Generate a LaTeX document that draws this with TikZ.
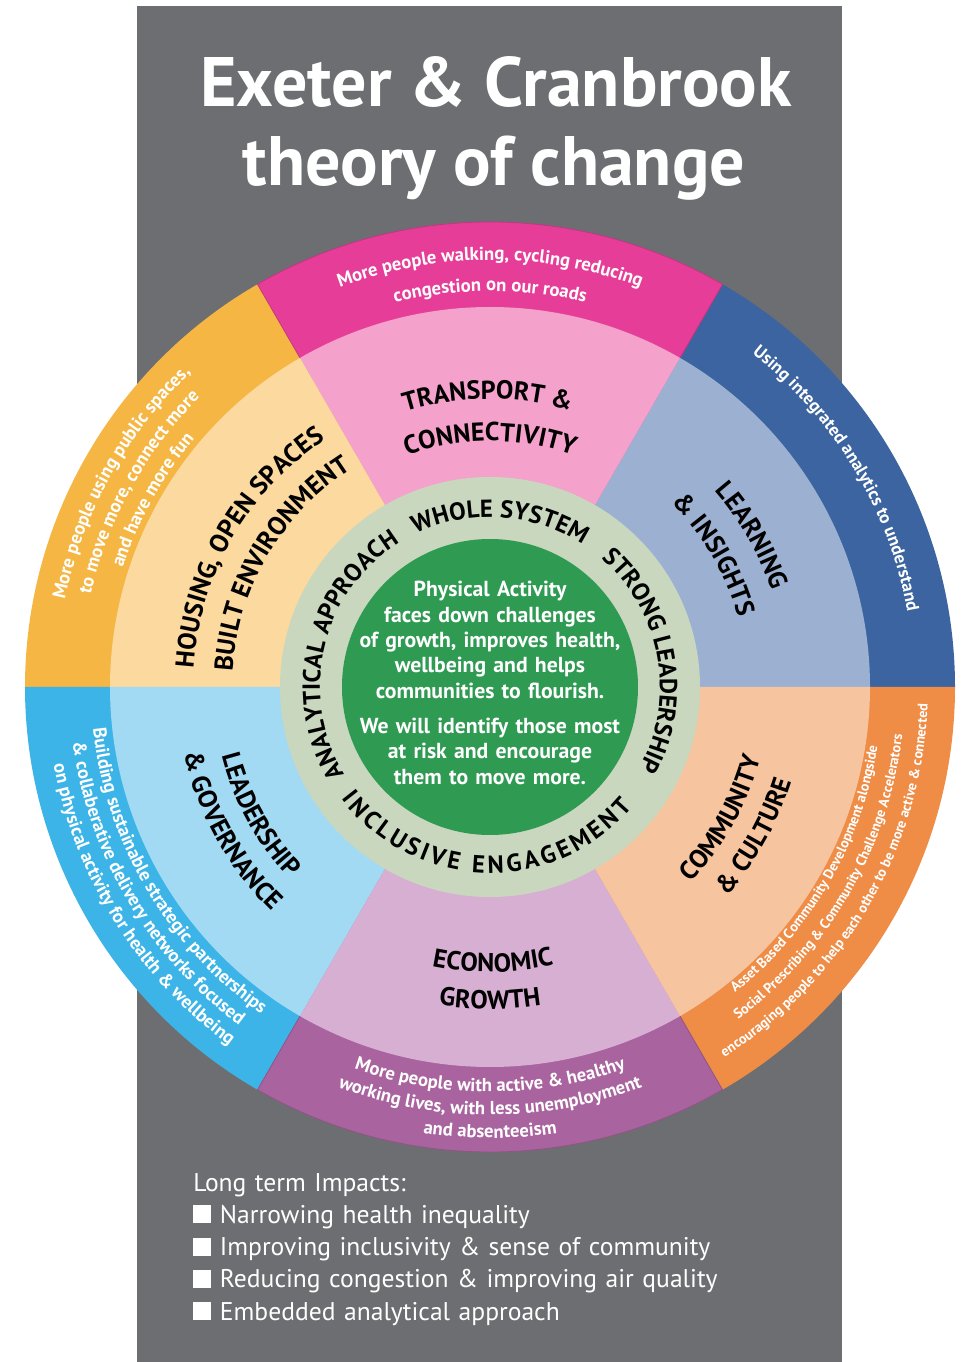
\documentclass[tikz,border=0pt]{standalone}
\usepackage{fontspec}
\setmainfont{PT Sans}
\newfontfamily\listfont[WordSpace=0.6]{PT Sans}
\usetikzlibrary{decorations.text}

% palette
\definecolor{bggray}{HTML}{6D6E71}
\definecolor{pinkO}{HTML}{E63E98}
\definecolor{pinkI}{HTML}{F4A1CB}
\definecolor{blueO}{HTML}{3B64A0}
\definecolor{blueI}{HTML}{9CB1D1}
\definecolor{yellowO}{HTML}{F5B643}
\definecolor{yellowI}{HTML}{FBD99F}
\definecolor{skyO}{HTML}{3CB4E7}
\definecolor{skyI}{HTML}{A3DAF3}
\definecolor{purpleO}{HTML}{A9639F}
\definecolor{purpleI}{HTML}{D7AFD2}
\definecolor{orangeO}{HTML}{EF8C45}
\definecolor{orangeI}{HTML}{F6C49F}
\definecolor{ringC}{HTML}{C9D7BF}
\definecolor{coreC}{HTML}{2F9A52}

% type settings for the curved labels
\newcommand\fmtwhite{\bfseries\fontsize{14}{14}\selectfont\color{white}}
\newcommand\fmtblue{\bfseries\fontsize{13.3}{14}\selectfont\color{white}}
\newcommand\fmtsmall{\bfseries\fontsize{10.6}{11}\selectfont\color{white}}
\newcommand\fmtlabel{\bfseries\fontsize{19.5}{20}\selectfont\color{black}}
\newcommand\fmtring{\bfseries\fontsize{18.5}{19}\selectfont\color{black}}

% #1 format, #2 radius, #3 centre angle, #4 half span, #5 text
\newcommand\cwtext[5]{\path[decorate,decoration={text along path,text align=center,text={|#1|#5}}]
  ({#3+#4}:#2) arc[start angle={#3+#4},end angle={#3-#4},radius=#2];}
\newcommand\ccwtext[5]{\path[decorate,decoration={text along path,text align=center,text={|#1|#5}}]
  ({#3-#4}:#2) arc[start angle={#3-#4},end angle={#3+#4},radius=#2];}
% text spread over an arc: #1 format, #2 radius, #3 start angle, #4 end angle, #5 text
\newcommand\fittext[5]{\path[decorate,decoration={text along path,text align={fit to path},text={|#1|#5}}]
  (#3:#2) arc[start angle=#3,end angle=#4,radius=#2];}
% #1 radius, #2 start angle, #3 end angle, #4 colour
\newcommand\sector[4]{\fill[#4] (0,0) -- (#2:#1) arc[start angle=#2,end angle=#3,radius=#1] -- cycle;}

\begin{document}
\begin{tikzpicture}[x=0.75pt,y=0.75pt]
\useasboundingbox (-490,-675) rectangle (474,687);
\fill[white] (-490,-675) rectangle (474,687);
\fill[bggray] (-353,-675) rectangle (352,681);

% title
\node[text=white,font=\bfseries\fontsize{52.5}{52}\selectfont,anchor=base,inner sep=0] (title1) at (6,580) {Exeter \& Cranbrook};
\node[text=white,font=\bfseries\fontsize{52.5}{52}\selectfont,anchor=base,inner sep=0] (title2) at (4,501) {theory of change};

% outer ring
\sector{465}{0}{60}{blueO}
\sector{465}{60}{120}{pinkO}
\sector{465}{120}{180}{yellowO}
\sector{465}{180}{240}{skyO}
\sector{465}{240}{300}{purpleO}
\sector{465}{300}{360}{orangeO}
\draw[pinkO!85!black,line width=0.6] (120:465) arc[start angle=120,end angle=60,radius=465] -- (60:380) (120:465) -- (120:380);
\draw[purpleO!85!black,line width=0.6] (240:465) arc[start angle=240,end angle=300,radius=465] -- (300:380) (240:465) -- (240:380);
% inner ring
\sector{380}{0}{60}{blueI}
\sector{380}{60}{120}{pinkI}
\sector{380}{120}{180}{yellowI}
\sector{380}{180}{240}{skyI}
\sector{380}{240}{300}{purpleI}
\sector{380}{300}{360}{orangeI}
% hub
\fill[ringC] (0,0) circle[radius=210];
\fill[coreC] (0,0) circle[radius=148];

% outcome statements
\cwtext{\fmtwhite}{427}{90}{40}{More people walking, cycling reducing}
\cwtext{\fmtwhite}{396}{90}{40}{congestion on our roads}
\cwtext{\fmtblue}{424}{31}{35}{Using integrated analytics to understand}
\cwtext{\fmtwhite}{434}{151}{35}{More people using public spaces,}
\cwtext{\fmtwhite}{410}{151}{35}{to move more, connect more}
\cwtext{\fmtwhite}{386}{151}{35}{and have more fun}
\ccwtext{\fmtwhite}{399}{210.5}{40}{Building sustainable strategic partnerships}
\ccwtext{\fmtwhite}{421}{210.5}{40}{{\&} collaberative delivery networks focused}
\ccwtext{\fmtwhite}{443}{212}{40}{on physical activity for health {\&} wellbeing}
\ccwtext{\fmtwhite}{405}{270}{40}{More people with active {\&} healthy}
\ccwtext{\fmtwhite}{428}{270}{40}{working lives, with less unemployment}
\ccwtext{\fmtwhite}{451}{270}{40}{and absenteeism}
\ccwtext{\fmtsmall}{392}{330}{40}{Asset Based Community Development alongside}
\ccwtext{\fmtsmall}{415}{330}{40}{Social Prescribing {\&} Community Challenge Accelerators}
\ccwtext{\fmtsmall}{438}{330}{40}{encouraging people to help each other to be more active {\&} connected}

% themes
\cwtext{\fmtlabel}{288}{90.5}{40}{TRANSPORT {\&}}
\cwtext{\fmtlabel}{246}{90}{45}{CONNECTIVITY}
\cwtext{\fmtlabel}{298}{30}{35}{LEARNING}
\cwtext{\fmtlabel}{258}{30.5}{35}{{\&} INSIGHTS}
\cwtext{\fmtlabel}{297}{150}{40}{HOUSING, OPEN SPACES}
\cwtext{\fmtlabel}{258}{149.5}{40}{BUILT ENVIRONMENT}
\ccwtext{\fmtlabel}{277}{209}{35}{LEADERSHIP}
\ccwtext{\fmtlabel}{313}{209}{35}{{\&} GOVERNANCE}
\ccwtext{\fmtlabel}{285}{270.6}{35}{ECONOMIC}
\ccwtext{\fmtlabel}{322}{270}{35}{GROWTH}
\ccwtext{\fmtlabel}{280}{330.5}{35}{COMMUNITY}
\ccwtext{\fmtlabel}{316}{330.6}{35}{{\&} CULTURE}

% principles around the hub
\fittext{\fmtring}{170}{116}{57}{WHOLE SYSTEM}
\fittext{\fmtring}{170}{49}{-28}{STRONG LEADERSHIP}
\fittext{\fmtring}{186}{217}{320}{INCLUSIVE ENGAGEMENT}
\fittext{\fmtring}{170}{211}{122}{ANALYTICAL APPROACH}

% core statement
\node[text=white,font=\bfseries\fontsize{16.3}{19}\selectfont,text width=330,align=center,anchor=base,inner sep=0] (core) at (0,90)
  {Physical Activity\\faces down challenges\\of growth, improves health,\\wellbeing and helps\\communities to flourish.\\[7.5pt]We will identify those most\\at risk and encourage\\them to move more.};

% long term impacts
\newcommand\bul{\rule{13.5pt}{13.5pt}\hspace{6.5pt}}
\node[text=white,font=\listfont\fontsize{19.2}{24.2}\selectfont,text width=620,align=left,anchor=base west,inner sep=0] (impacts) at (-297,-504)
  {Long term Impacts:\\\bul Narrowing health inequality\\\bul Improving inclusivity \& sense of community\\\bul Reducing congestion \& improving air quality\\\bul Embedded analytical approach};
\end{tikzpicture}
\end{document}
